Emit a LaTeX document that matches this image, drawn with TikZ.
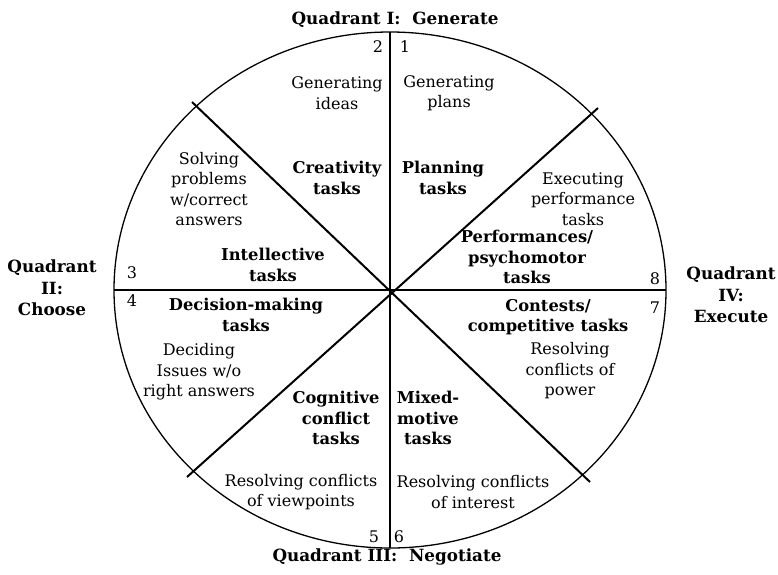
\documentclass[tikz,border=0pt]{standalone}
\usepackage{fontspec}
\setmainfont{DejaVu Serif}
\begin{document}
\begin{tikzpicture}[x=1pt,y=-1pt,
  txt/.style={inner sep=0pt,align=center,font=\fontsize{16}{20.5}\selectfont},
  btxt/.style={inner sep=0pt,align=center,font=\fontsize{16.3}{20.5}\selectfont\bfseries},
  qtxt/.style={inner sep=0pt,align=center,font=\fontsize{16.8}{21.5}\selectfont\bfseries},
  num/.style={inner sep=0pt,font=\fontsize{16}{18}\selectfont},
  rim/.style={line width=1.3pt},
  axis/.style={line width=1.3pt},
  diag/.style={line width=2pt}]
\useasboundingbox (0,0) rectangle (778,574);
% geometry
\coordinate (C) at (390,290);
\coordinate (T) at (390,32);
\coordinate (B) at (390,548);
\coordinate (L) at (114,290);
\coordinate (R) at (666,290);
\coordinate (UL) at (192,102);
\coordinate (LR) at (590,482);
\coordinate (UR) at (598,108);
\coordinate (LL) at (187,477);
\draw[rim] (C) ellipse [x radius=276, y radius=258];
\draw[axis] (T) -- (B);
\draw[axis] (L) -- (R);
\draw[diag] (UL) -- (LR);
\draw[diag] (LL) -- (UR);
% quadrant labels
\node[qtxt] (q1) at (395,20) {Quadrant I:\ \ Generate};
\node[qtxt] (q2) at (52,288) {Quadrant\\II:\\Choose};
\node[qtxt] (q3) at (387,557) {Quadrant III:\ \ Negotiate};
\node[qtxt] (q4) at (731,295) {Quadrant\\IV:\\Execute};
% numbers
\node[num] (n1) at (405,47) {1};
\node[num] (n2) at (378,47) {2};
\node[num] (n3) at (132,273) {3};
\node[num] (n4) at (132,301) {4};
\node[num] (n5) at (374,537) {5};
\node[num] (n6) at (399,537) {6};
\node[num] (n7) at (655,308) {7};
\node[num] (n8) at (655,279) {8};
% sector texts
\node[txt] (gi) at (337,93) {Generating\\ideas};
\node[txt] (gp) at (449,93) {Generating\\plans};
\node[btxt] (cr) at (337,178) {Creativity\\tasks};
\node[btxt] (pl) at (443,178) {Planning\\tasks};
\node[txt] (sp) at (209,189) {Solving\\problems\\w/correct\\answers};
\node[txt] (ex) at (583,199) {Executing\\performance\\tasks};
\node[btxt] (it) at (273,265) {Intellective\\tasks};
\node[btxt] (pf) at (527,257) {Performances/\\psychomotor\\tasks};
\node[btxt] (dm) at (246,315) {Decision-making\\tasks};
\node[btxt] (ct) at (548,317) {Contests/\\competitive tasks};
\node[txt] (di) at (199,372) {Deciding\\Issues w/o\\right answers};
\node[txt] (rp) at (570,371) {Resolving\\conflicts of\\power};
\node[btxt] (cc) at (336,418) {Cognitive\\conflict\\tasks};
\node[btxt] (mm) at (428,418) {Mixed-\\motive\\tasks};
\node[txt] (rv) at (301,492) {Resolving conflicts\\of viewpoints};
\node[txt] (ri) at (473,492) {Resolving conflicts\\of interest};
\end{tikzpicture}
\end{document}
